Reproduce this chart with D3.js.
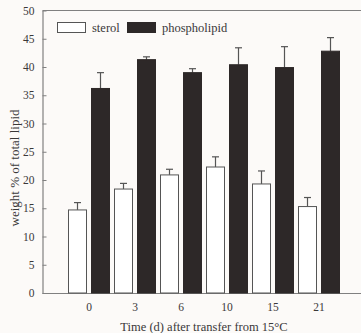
<!DOCTYPE html>
<html><head><meta charset="utf-8">
<script src="https://cdn.jsdelivr.net/npm/d3@7/dist/d3.min.js"></script>
<style>
html,body{margin:0;padding:0;background:#fcfaf8;}
svg{display:block;}
text{font-family:"Liberation Serif","Times New Roman",serif;fill:#3a3838;}
</style></head>
<body>
<svg id="chart" width="361" height="333"></svg>
<script>
const categories = ["0","3","6","10","15","21"];
const seriesNames = ["sterol","phospholipid"];
const sterol = [14.7,18.4,20.9,22.3,19.3,15.3];
const sterolErr = [1.3,1.0,1.0,1.8,2.3,1.6];
const phospholipid = [36.2,41.3,39.0,40.4,39.9,42.8];
const phospholipidErr = [2.8,0.5,0.7,3.0,3.7,2.4];
const yTicks = [0,5,10,15,20,25,30,35,40,45,50];

const svg = d3.select("#chart");
const x0 = d3.scaleBand().domain(categories).range([66,342]).padding(0);
const x1 = d3.scaleBand().domain(seriesNames).range([2,44]).paddingInner(0.174).paddingOuter(0);
const y = d3.scaleLinear().domain([0,50]).range([293,10.5]);
const axisColor = "#808080";

// frame lines
svg.append("line").attr("x1",42.5).attr("x2",361).attr("y1",10.5).attr("y2",10.5).attr("stroke",axisColor).attr("stroke-width",1.2);
svg.append("line").attr("x1",42.5).attr("x2",361).attr("y1",293.5).attr("y2",293.5).attr("stroke",axisColor).attr("stroke-width",1.2);

// y axis
const yAxis = d3.axisLeft(y).tickValues(yTicks).tickSizeInner(-4).tickSizeOuter(0).tickPadding(8);
const yg = svg.append("g").attr("transform","translate(42.5,0)").call(yAxis);
yg.select(".domain").attr("stroke",axisColor).attr("stroke-width",1.2);
yg.selectAll(".tick line").attr("stroke",axisColor);
yg.selectAll(".tick text").attr("font-size",11.5).attr("font-family","Liberation Serif").attr("fill","#4a4848");

// x labels
const xAxis = d3.axisBottom(x0).tickSize(0).tickPadding(9);
const xg = svg.append("g").attr("transform","translate(0,293.5)").call(xAxis);
xg.select(".domain").remove();
xg.selectAll(".tick text").attr("font-size",11.5).attr("font-family","Liberation Serif").attr("fill","#4a4848");

const data = categories.map((c,i)=>({c, vals:[
  {s:"sterol", v:sterol[i], e:sterolErr[i]},
  {s:"phospholipid", v:phospholipid[i], e:phospholipidErr[i]}]}));

const colors = {sterol:"#ffffff", phospholipid:"#2d2828"};
const groups = svg.append("g").selectAll("g").data(data).join("g")
  .attr("transform", d=>`translate(${x0(d.c)},0)`);

// error bars
groups.selectAll("line.err").data(d=>d.vals).join("line").attr("class","err")
  .attr("x1",d=>x1(d.s)+x1.bandwidth()/2).attr("x2",d=>x1(d.s)+x1.bandwidth()/2)
  .attr("y1",d=>y(d.v)).attr("y2",d=>y(d.v+d.e)).attr("stroke","#555").attr("stroke-width",1.2);
groups.selectAll("line.cap").data(d=>d.vals).join("line").attr("class","cap")
  .attr("x1",d=>x1(d.s)+x1.bandwidth()/2-3.5).attr("x2",d=>x1(d.s)+x1.bandwidth()/2+3.5)
  .attr("y1",d=>y(d.v+d.e)).attr("y2",d=>y(d.v+d.e)).attr("stroke","#555").attr("stroke-width",1.2);

groups.selectAll("rect").data(d=>d.vals).join("rect")
  .attr("x",d=>x1(d.s)+0.5).attr("width",x1.bandwidth()-1)
  .attr("y",d=>y(d.v)).attr("height",d=>y(0)-y(d.v))
  .attr("fill",d=>colors[d.s]).attr("stroke",d=>d.s==="sterol"?"#555":"#2d2828").attr("stroke-width",1);

// legend
const legendX = [57,127];
seriesNames.forEach((s,i)=>{
  svg.append("rect").attr("x",legendX[i]+0.5).attr("y",22.5).attr("width",28).attr("height",10)
    .attr("fill",colors[s]).attr("stroke",s==="sterol"?"#555":"#2d2828");
  svg.append("text").attr("x",legendX[i]+35).attr("y",31.5).attr("font-size",12.5).text(s);
});

// axis titles
svg.append("text").attr("transform","translate(19,168) rotate(-90)").attr("text-anchor","middle")
  .attr("font-size",13).text("weight % of total lipid");
svg.append("text").attr("x",204).attr("y",331).attr("text-anchor","middle")
  .attr("font-size",12.5).text("Time (d) after transfer from 15°C");
</script>
</body></html>
